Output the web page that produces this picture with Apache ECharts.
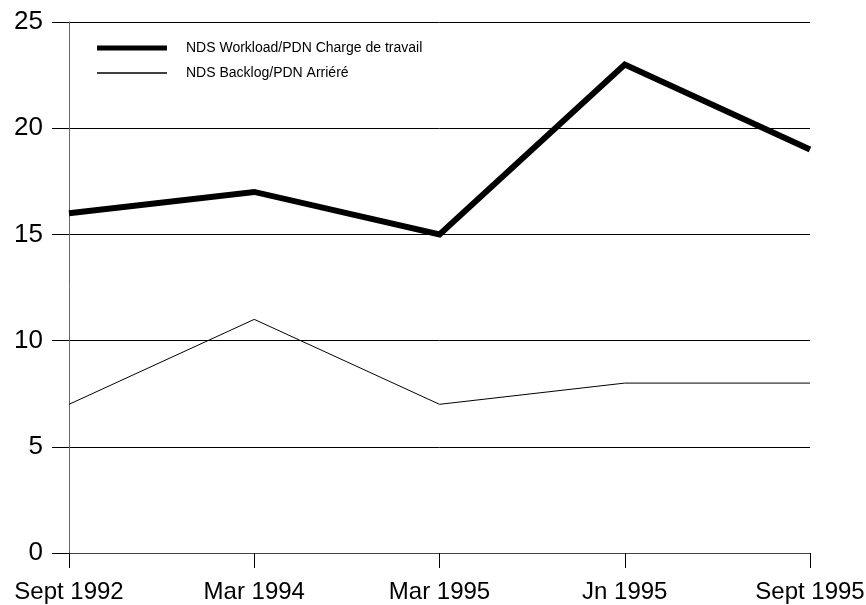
<!DOCTYPE html>
<html>
<head>
<meta charset="utf-8">
<script src="https://cdn.jsdelivr.net/npm/echarts@6/dist/echarts.min.js"></script>
<style>
  html, body { margin: 0; padding: 0; background: #fff; }
  #chart { width: 866px; height: 605px; }
</style>
</head>
<body>
<div id="chart"></div>
<script>
// Period labels along the x axis
var periods = ['Sept 1992', 'Mar 1994', 'Mar 1995', 'Jn 1995', 'Sept 1995'];
// Workload and backlog per period
var workload = [16, 17, 15, 23, 19];
var backlog = [7, 11, 7, 8, 8];
var workloadName = 'NDS Workload/PDN Charge de travail';
var backlogName = 'NDS Backlog/PDN Arriéré';

var chart = echarts.init(document.getElementById('chart'), null, { renderer: 'canvas' });
var font = 'Liberation Sans, Arial, sans-serif';

chart.setOption({
  animation: false,
  backgroundColor: '#ffffff',
  grid: { left: 69, right: 56, top: 22, bottom: 52, containLabel: false, outerBoundsMode: 'none' },
  legend: {
    left: 92, top: 36, orient: 'vertical',
    itemWidth: 70, itemHeight: 5, itemGap: 11,
    icon: 'rect',
    textStyle: { fontFamily: font, fontSize: 14, color: '#000', padding: [0, 0, 0, 14] },
    data: [
      { name: workloadName, itemStyle: { color: '#000' } },
      { name: backlogName, icon: 'path://M0,0 L70,0 L70,1.4 L0,1.4 Z', itemStyle: { color: '#000' } }
    ]
  },
  xAxis: {
    type: 'category', data: periods, boundaryGap: false,
    axisLine: { lineStyle: { color: '#444', width: 1 } },
    axisTick: { show: true, length: 15, alignWithLabel: true, lineStyle: { color: '#000' } },
    axisLabel: { fontFamily: font, fontSize: 24, color: '#000', margin: 27, interval: 0 },
    splitLine: { show: false }
  },
  yAxis: {
    type: 'value', min: 0, max: 25, interval: 5,
    axisLine: { show: true, lineStyle: { color: '#666', width: 1 } },
    axisTick: { show: true, length: 17, lineStyle: { color: '#000' } },
    axisLabel: { fontFamily: font, fontSize: 26, color: '#000', margin: 26 },
    splitLine: { show: true, lineStyle: { color: '#000', width: 1 } }
  },
  series: [
    {
      name: workloadName, type: 'line', data: workload,
      symbol: 'none', lineStyle: { color: '#000', width: 6, join: 'miter' },
      itemStyle: { color: '#000' }
    },
    {
      name: backlogName, type: 'line', data: backlog,
      symbol: 'none', lineStyle: { color: '#000', width: 1 },
      itemStyle: { color: '#000' }
    }
  ]
});
</script>
</body>
</html>
